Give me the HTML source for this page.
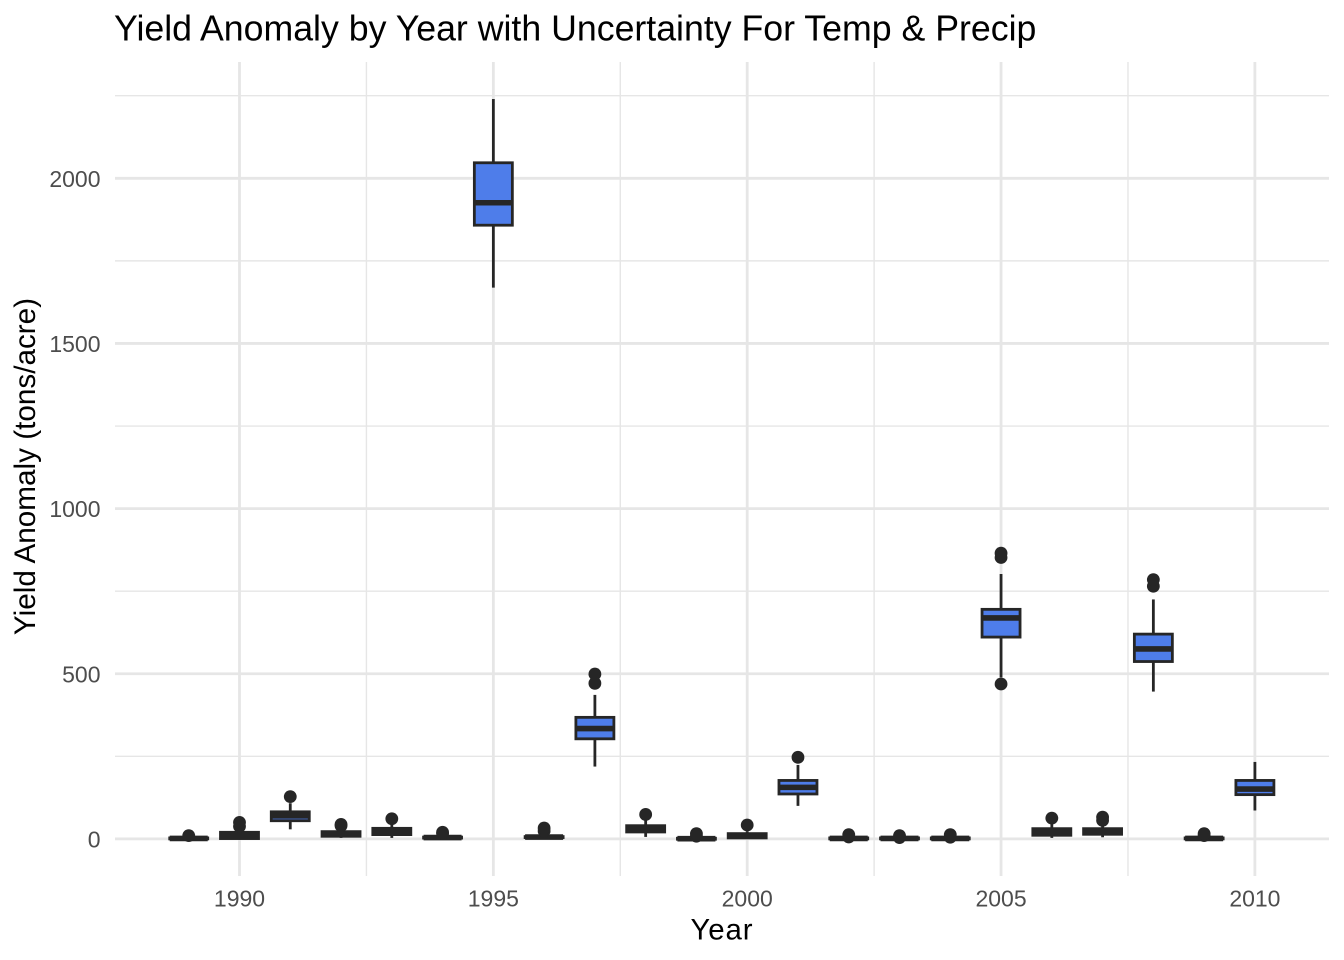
<!DOCTYPE html>
<html>
<head>
<meta charset="utf-8">
<title>Yield Anomaly by Year</title>
<style>
html,body{margin:0;padding:0;background:#fff;width:1344px;height:960px;overflow:hidden}
svg{display:block}
text{font-family:"Liberation Sans",Arial,sans-serif}
</style>
</head>
<body>
<svg id="chart" width="1344" height="960" viewBox="0 0 1344 960" xmlns="http://www.w3.org/2000/svg">
<rect width="1344" height="960" fill="#fff"/>
<g id="grid"></g>
<g id="marks"></g>
<g id="labels"></g>
<text x="114" y="40.5" font-size="35.7" fill="#000">Yield Anomaly by Year with Uncertainty For Temp &amp; Precip</text>
<text x="722" y="939.5" font-size="29.4" letter-spacing="0.9" fill="#000" text-anchor="middle">Year</text>
<text transform="translate(35,466.5) rotate(-90)" font-size="29.7" fill="#000" text-anchor="middle">Yield Anomaly (tons/acre)</text>
</svg>
<script>
const years = [1989,1990,1991,1992,1993,1994,1995,1996,1997,1998,1999,2000,2001,2002,2003,2004,2005,2006,2007,2008,2009,2010];
const q1Values = [0,1,55,8,13,2.5,1858,4,303,21,-1,3,136,0,0,0,611,11,14,537,0,134];
const medianValues = [1.5,8,70,15,22,4,1926,5.5,334,30,0.5,10,156,1.5,1.5,1.5,669,20,22,575,1.5,151];
const q3Values = [3,20,82,22,32,5.5,2047,7,368,40,2,16,177,3,3,3,695,31,31,620,3,177];
const whiskerLow = [-2,-2,29,3,3,0,1669,2,219,6,-2,0,100,-2,-2,-2,489,3,5,446,-2,86];
const whiskerHigh = [6,28,108,31,43,12,2240,18,436,58,10,23,224,8,8,8,802,46,46,725,10,233];
const outlierValues = [[10],[38,50],[128],[40,44],[61],[16,20],[],[24,33],[471,499],[74],[8,16],[42],[247],[6,13],[4,10],[5,13],[469,852,865],[63],[56,66],[765,785],[10,16],[]];
const xTickValues = [1990,1995,2000,2005,2010];
const xMinorValues = [1992.5,1997.5,2002.5,2007.5];
const yTickValues = [0,500,1000,1500,2000];
const yMinorValues = [250,750,1250,1750,2250];

const NS = 'http://www.w3.org/2000/svg';
const xScale = v => 239.5 + (v - 1990) * 50.77;
const yScale = v => 838.9 - v * 0.3303;
const panel = {left:115, right:1329, top:62, bottom:876};
const gridG = document.getElementById('grid');
const marksG = document.getElementById('marks');
const labelsG = document.getElementById('labels');
const gridColor = '#E6E6E6';

function make(tag, attrs, parent) {
  const el = document.createElementNS(NS, tag);
  for (const k in attrs) el.setAttribute(k, attrs[k]);
  parent.appendChild(el);
  return el;
}

yMinorValues.forEach(v => {
  const l = make('line', {x1:panel.left, x2:panel.right, y1:yScale(v), y2:yScale(v), stroke:gridColor, 'stroke-width':1.4}, gridG);
  
  
});
xMinorValues.forEach(v => {
  const l = make('line', {x1:xScale(v), x2:xScale(v), y1:panel.top, y2:panel.bottom, stroke:gridColor, 'stroke-width':1.4}, gridG);
  
  
});
yTickValues.forEach(v => {
  const l = make('line', {x1:panel.left, x2:panel.right, y1:yScale(v), y2:yScale(v), stroke:gridColor, 'stroke-width':2.8}, gridG);
  
  
  const t = make('text', {x:100.5, y:yScale(v) + 8.5, 'font-size':23, fill:'#4D4D4D', 'text-anchor':'end'}, labelsG);
  
  
  t.textContent = String(v);
});
xTickValues.forEach(v => {
  const l = make('line', {x1:xScale(v), x2:xScale(v), y1:panel.top, y2:panel.bottom, stroke:gridColor, 'stroke-width':2.8}, gridG);
  
  
  const t = make('text', {x:xScale(v), y:906.5, 'font-size':23, fill:'#4D4D4D', 'text-anchor':'middle'}, labelsG);
  
  
  t.textContent = String(v);
});

const dark = '#262626';
const boxWidth = 38;
years.forEach((yr, i) => {
  const cx = xScale(yr);
  const g = make('g', {}, marksG);
  
  
  const hiWhisker = make('line', {x1:cx, x2:cx, y1:yScale(q3Values[i]), y2:yScale(whiskerHigh[i]), stroke:dark, 'stroke-width':2.8}, g);
  
  
  const loWhisker = make('line', {x1:cx, x2:cx, y1:yScale(q1Values[i]), y2:yScale(whiskerLow[i]), stroke:dark, 'stroke-width':2.8}, g);
  
  
  const top = yScale(q3Values[i]);
  const bot = yScale(q1Values[i]);
  const box = make('rect', {x:cx - boxWidth / 2, y:top, width:boxWidth, height:Math.max(bot - top, 0.5), fill:'#4E7DEA', stroke:dark, 'stroke-width':2.8, 'stroke-linejoin':'miter'}, g);
  
  
  const med = make('line', {x1:cx - boxWidth / 2, x2:cx + boxWidth / 2, y1:yScale(medianValues[i]), y2:yScale(medianValues[i]), stroke:dark, 'stroke-width':5.6}, g);
  
  
  outlierValues[i].forEach(o => {
    const c = make('circle', {cx:cx, cy:yScale(o), r:6.4, fill:dark}, g);
    
    
  });
});
</script>
</body>
</html>
